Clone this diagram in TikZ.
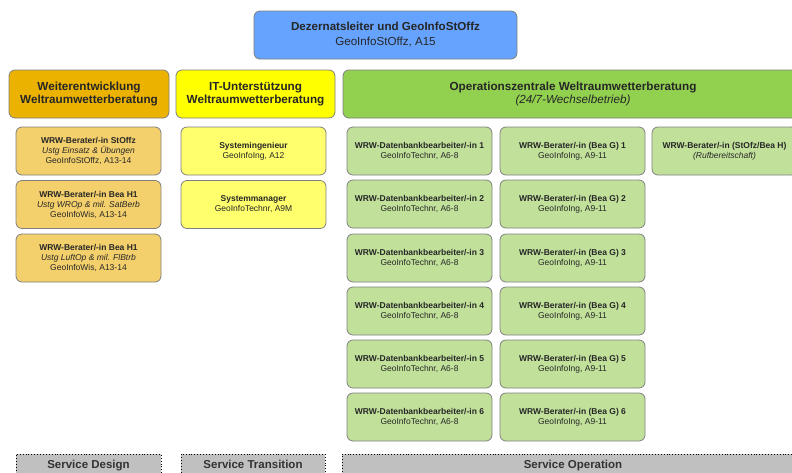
\documentclass[tikz,border=0pt]{standalone}
\usepackage{fontspec}
\setmainfont{Liberation Sans}
\usepackage{tikz}
\definecolor{leiterblue}{HTML}{66A3FF}
\definecolor{weiterorange}{HTML}{EBB300}
\definecolor{weiterlight}{HTML}{F4D06C}
\definecolor{ityellow}{HTML}{FFFF00}
\definecolor{itlight}{HTML}{FFFF6E}
\definecolor{opzgreen}{HTML}{92D050}
\definecolor{opzlight}{HTML}{C1E19B}
\definecolor{phasegray}{HTML}{C0C0C0}
\definecolor{rahmen}{HTML}{7F7F7F}

\begin{document}
\begin{tikzpicture}[x=1pt, y=-1pt,
                box/.style={draw=rahmen, line width=0.8pt, rounded corners=6pt, align=center, inner sep=0pt, text=black!85},
                head/.style={box, minimum height=48pt, font=\fontsize{11.7}{13.5}\selectfont\bfseries},
                sub/.style={box, minimum width=145pt, minimum height=48pt, font=\fontsize{8.5}{10}\selectfont},
                phase/.style={draw=black, dotted, line width=0.9pt, fill=phasegray, minimum height=22pt, inner sep=0pt, text height=8.5pt, text depth=2.5pt, font=\fontsize{11.5}{12}\selectfont\bfseries, text=black!80}]
                \clip (0,0) rectangle (792,472);
                \node[head, fill=leiterblue, minimum width=263pt, font=\fontsize{11.6}{15}\selectfont] (L) at (385.5,35) {\textbf{Dezernatsleiter und GeoInfoStOffz}\\GeoInfoStOffz, A15};
                \node[head, fill=weiterorange, minimum width=160pt] (W) at (89,94) {Weiterentwicklung\\Weltraumwetterberatung};
                \node[head, fill=ityellow, minimum width=159pt] (I) at (255.5,94) {IT-Unterstützung\\Weltraumwetterberatung};
                \node[head, fill=opzgreen, minimum width=460pt] (O) at (573,94) {Operationszentrale Weltraumwetterberatung\\\mdseries\itshape (24/7-Wechselbetrieb)};
                \node[sub, fill=weiterlight] (W1) at (88.5,151) {\textbf{WRW-Berater/-in StOffz}\\\textit{Ustg Einsatz \& Übungen}\\GeoInfoStOffz, A13-14};
                \node[sub, fill=weiterlight] (W2) at (88.5,204.5) {\textbf{WRW-Berater/-in Bea H1}\\\textit{Ustg WROp \& mil. SatBerb}\\GeoInfoWis, A13-14};
                \node[sub, fill=weiterlight] (W3) at (88.5,258) {\textbf{WRW-Berater/-in Bea H1}\\\textit{Ustg LuftOp \& mil. FlBtrb}\\GeoInfoWis, A13-14};
                \node[sub, fill=itlight] (I1) at (253.5,151) {\textbf{Systemingenieur}\\GeoInfoIng, A12};
                \node[sub, fill=itlight] (I2) at (253.5,204.5) {\textbf{Systemmanager}\\GeoInfoTechnr, A9M};
                \node[sub, fill=opzlight] (D1) at (419.5,151) {\textbf{WRW-Datenbankbearbeiter/-in 1}\\GeoInfoTechnr, A6-8};
                \node[sub, fill=opzlight] (D2) at (419.5,204) {\textbf{WRW-Datenbankbearbeiter/-in 2}\\GeoInfoTechnr, A6-8};
                \node[sub, fill=opzlight] (D3) at (419.5,258) {\textbf{WRW-Datenbankbearbeiter/-in 3}\\GeoInfoTechnr, A6-8};
                \node[sub, fill=opzlight] (D4) at (419.5,311) {\textbf{WRW-Datenbankbearbeiter/-in 4}\\GeoInfoTechnr, A6-8};
                \node[sub, fill=opzlight] (D5) at (419.5,364) {\textbf{WRW-Datenbankbearbeiter/-in 5}\\GeoInfoTechnr, A6-8};
                \node[sub, fill=opzlight] (D6) at (419.5,417) {\textbf{WRW-Datenbankbearbeiter/-in 6}\\GeoInfoTechnr, A6-8};
                \node[sub, fill=opzlight] (B1) at (572.5,151) {\textbf{WRW-Berater/-in (Bea G) 1}\\GeoInfoIng, A9-11};
                \node[sub, fill=opzlight] (B2) at (572.5,204) {\textbf{WRW-Berater/-in (Bea G) 2}\\GeoInfoIng, A9-11};
                \node[sub, fill=opzlight] (B3) at (572.5,258) {\textbf{WRW-Berater/-in (Bea G) 3}\\GeoInfoIng, A9-11};
                \node[sub, fill=opzlight] (B4) at (572.5,311) {\textbf{WRW-Berater/-in (Bea G) 4}\\GeoInfoIng, A9-11};
                \node[sub, fill=opzlight] (B5) at (572.5,364) {\textbf{WRW-Berater/-in (Bea G) 5}\\GeoInfoIng, A9-11};
                \node[sub, fill=opzlight] (B6) at (572.5,417) {\textbf{WRW-Berater/-in (Bea G) 6}\\GeoInfoIng, A9-11};
                \node[sub, fill=opzlight] (R) at (724.5,151) {\textbf{WRW-Berater/-in (StOfz/Bea H)}\\\textit{(Rufbereitschaft)}};
                \node[phase, minimum width=145pt] (SD) at (88.5,465) {Service Design};
                \node[phase, minimum width=144pt] (ST) at (253,465) {Service Transition};
                \node[phase, minimum width=462pt] (SO) at (573,465) {Service Operation};
            \end{tikzpicture}
\end{document}
